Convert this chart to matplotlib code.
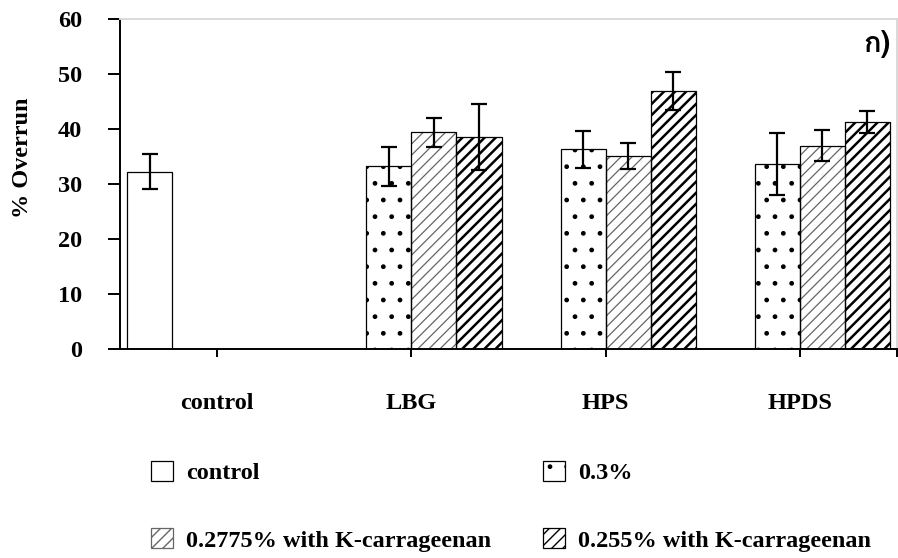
import numpy as np
import matplotlib
matplotlib.use('Agg')
from matplotlib import pyplot as plt
from matplotlib import font_manager, ft2font
from matplotlib.patches import Patch

nan = np.nan

categories = ['control', 'LBG', 'HPS', 'HPDS']
series_names = ['control', '0.3%', '0.2775% with K-carrageenan', '0.255% with K-carrageenan']

control_mean = [32.2, nan, nan, nan]
control_err = [3.2, nan, nan, nan]
p300_mean = [nan, 33.2, 36.3, 33.6]
p300_err = [nan, 3.5, 3.3, 5.6]
p2775_mean = [nan, 39.4, 35.1, 37.0]
p2775_err = [nan, 2.6, 2.3, 2.9]
p255_mean = [nan, 38.5, 46.9, 41.3]
p255_err = [nan, 6.0, 3.5, 2.0]

y_ticks = [0, 10, 20, 30, 40, 50, 60]
panel_label = 'ก)'

plt.rcParams['font.family'] = 'Liberation Serif'
plt.rcParams['font.weight'] = 'bold'
plt.rcParams['font.size'] = 17.5

# hatch pattern, hatch colour, hatch width for each series
styles = [
    ('', 'black', 1.0),
    ('.', 'black', 1.0),
    ('///', '#666666', 0.9),
    ('///', 'black', 1.8),
]


def find_family(char):
    # look for an installed font that has the glyph
    for f in font_manager.fontManager.ttflist:
        try:
            if ord(char) in ft2font.FT2Font(f.fname).get_charmap():
                return f.name
        except Exception:
            pass
    return None


def draw_bars(ax, x, heights, errs, style):
    hatch, hcolor, hlw = style
    bars = ax.bar(x, heights, width, color='white', edgecolor=hcolor,
                  linewidth=0, hatch=hatch if hatch else None, zorder=2)
    for b in bars:
        if hasattr(b, 'set_hatch_linewidth'):
            b.set_hatch_linewidth(hlw)
    ax.bar(x, heights, width, fill=False, edgecolor='black', linewidth=0.9, zorder=3)
    ax.errorbar(x, heights, yerr=errs, fmt='none', ecolor='black',
                elinewidth=1.6, capsize=6, capthick=1.6, zorder=4)


fig = plt.figure(figsize=(8.98, 5.58), dpi=100)
ax = fig.add_axes([120 / 898, 209 / 558, 777 / 898, 330 / 558])

x = np.arange(len(categories))
width = 0.232
means = [control_mean, p300_mean, p2775_mean, p255_mean]
errs = [control_err, p300_err, p2775_err, p255_err]
for i in range(4):
    draw_bars(ax, x + (i - 1.5) * width, means[i], errs[i], styles[i])

ax.set_xlim(-0.5, 3.5)
ax.set_ylim(0, 60)
ax.set_yticks(y_ticks)
ax.tick_params(axis='y', direction='out', length=8.6, width=1.4, pad=18.5)
ax.set_xticks(list(x) + [3.5])
ax.set_xticklabels(categories + [''])
ax.tick_params(axis='x', direction='out', length=6, width=1.4, pad=26)

ax.spines['left'].set_linewidth(1.4)
ax.spines['bottom'].set_linewidth(1.4)
ax.spines['bottom'].set_zorder(5)
ax.spines['top'].set_color('#d9d9d9')
ax.spines['right'].set_color('#d9d9d9')
ax.spines['top'].set_linewidth(1.4)
ax.spines['right'].set_linewidth(1.4)

fig.text(23 / 898, 1 - 158 / 558, '% Overrun', rotation=90, ha='center', va='center')

families = ['Liberation Sans', 'DejaVu Sans']
thai = find_family(panel_label[0])
if thai:
    families.insert(0, thai)
ax.text(0.992, 0.925, panel_label, transform=ax.transAxes, ha='right', va='center',
        fontsize=21, fontweight='bold', family=families)

handles = []
for name, (hatch, hcolor, hlw) in zip(series_names, styles):
    p = Patch(facecolor='white', edgecolor=hcolor if hatch != '.' else 'black',
              hatch=hatch if hatch else None, linewidth=0.9, label=name)
    handles.append(p)
order = [0, 2, 1, 3]
fig.legend([handles[i] for i in order], [series_names[i] for i in order],
           ncol=2, loc='upper left', bbox_to_anchor=(151 / 898, 1 - 461 / 558),
           frameon=False, handlelength=0.9, handleheight=0.9, handletextpad=0.53,
           columnspacing=2.15, labelspacing=1.8, borderpad=0, borderaxespad=0)

fig.savefig('out.png', dpi=100)
